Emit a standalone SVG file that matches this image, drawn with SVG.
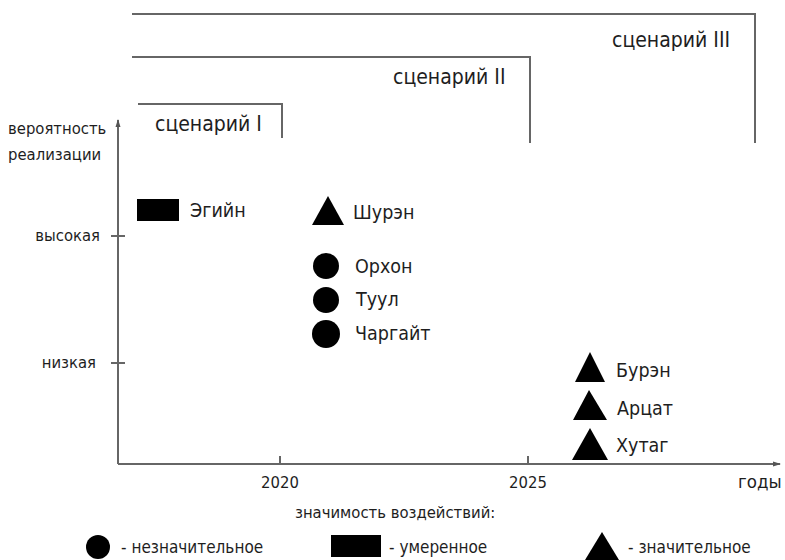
<svg xmlns="http://www.w3.org/2000/svg" width="785" height="560" viewBox="0 0 785 560">
<defs>
<style>
.ln{fill:none;stroke:#666;stroke-width:2}
.t{font-family:"DejaVu Sans Condensed","DejaVu Sans",sans-serif;fill:#1e1e1e}
.s{font-size:16.5px}
.g{font-size:17px}
.m{font-size:19.5px}
.l{font-size:21px}
.sh{fill:#000}
</style>
<marker id="arr" markerWidth="8" markerHeight="8" refX="7" refY="4" orient="auto" markerUnits="userSpaceOnUse">
<path d="M0,1.5 L8,4 L0,6.5 Z" fill="#555"/>
</marker>
</defs>
<g id="connectors">
<path class="ln" d="M132,14 H755 V143"/>
<path class="ln" d="M132,57 H530 V143"/>
<path class="ln" d="M138,104 H282 V138"/>
<path class="ln" d="M118,464 V120" marker-end="url(#arr)"/>
<path class="ln" d="M118,464 H780" marker-end="url(#arr)"/>
<path class="ln" d="M111,236 H125 M111,363 H125 M280,456 V464 M528,456 V464"/>
</g>
<g id="scenario1"><text class="t l" x="155" y="131">сценарий I</text></g>
<g id="scenario2"><text class="t l" x="393" y="84">сценарий II</text></g>
<g id="scenario3"><text class="t l" x="612" y="47">сценарий III</text></g>
<g id="axis-labels">
<text class="t s" x="8" y="134">вероятность</text>
<text class="t s" x="8" y="160">реализации</text>
<text class="t s" x="100" y="241" text-anchor="end">высокая</text>
<text class="t s" x="96" y="368" text-anchor="end">низкая</text>
<text class="t s" x="280" y="488" text-anchor="middle">2020</text>
<text class="t s" x="528" y="488" text-anchor="middle">2025</text>
<text class="t" x="738" y="488" font-size="18.5">годы</text>
<text class="t s" x="295" y="518">значимость воздействий:</text>
</g>
<g id="egiyn"><rect class="sh" x="137" y="199" width="42" height="22"/><text class="t m" x="190" y="217">Эгийн</text></g>
<g id="shuren"><path class="sh" d="M328,196 L344,225 L312,225 Z"/><text class="t m" x="353" y="219">Шурэн</text></g>
<g id="orkhon"><circle class="sh" cx="326" cy="266" r="13"/><text class="t m" x="355" y="273">Орхон</text></g>
<g id="tuul"><circle class="sh" cx="326" cy="300" r="13"/><text class="t m" x="356" y="306">Туул</text></g>
<g id="chargait"><circle class="sh" cx="326" cy="334" r="14"/><text class="t m" x="355" y="340">Чаргайт</text></g>
<g id="buren"><path class="sh" d="M590,352 L605,382 L575,382 Z"/><text class="t m" x="616" y="377">Бурэн</text></g>
<g id="artsat"><path class="sh" d="M589,390 L607,420 L573,420 Z"/><text class="t m" x="617" y="415">Арцат</text></g>
<g id="khutag"><path class="sh" d="M590,428 L608,460 L572,460 Z"/><text class="t m" x="616" y="452">Хутаг</text></g>
<g id="legend">
<circle class="sh" cx="98" cy="547" r="12"/><text class="t g" x="121" y="553">- незначительное</text>
<rect class="sh" x="331" y="535" width="50" height="22"/><text class="t g" x="389" y="553">- умеренное</text>
<path class="sh" d="M602,532 L619,560 L585,560 Z"/><text class="t g" x="628" y="553">- значительное</text>
</g>
</svg>
